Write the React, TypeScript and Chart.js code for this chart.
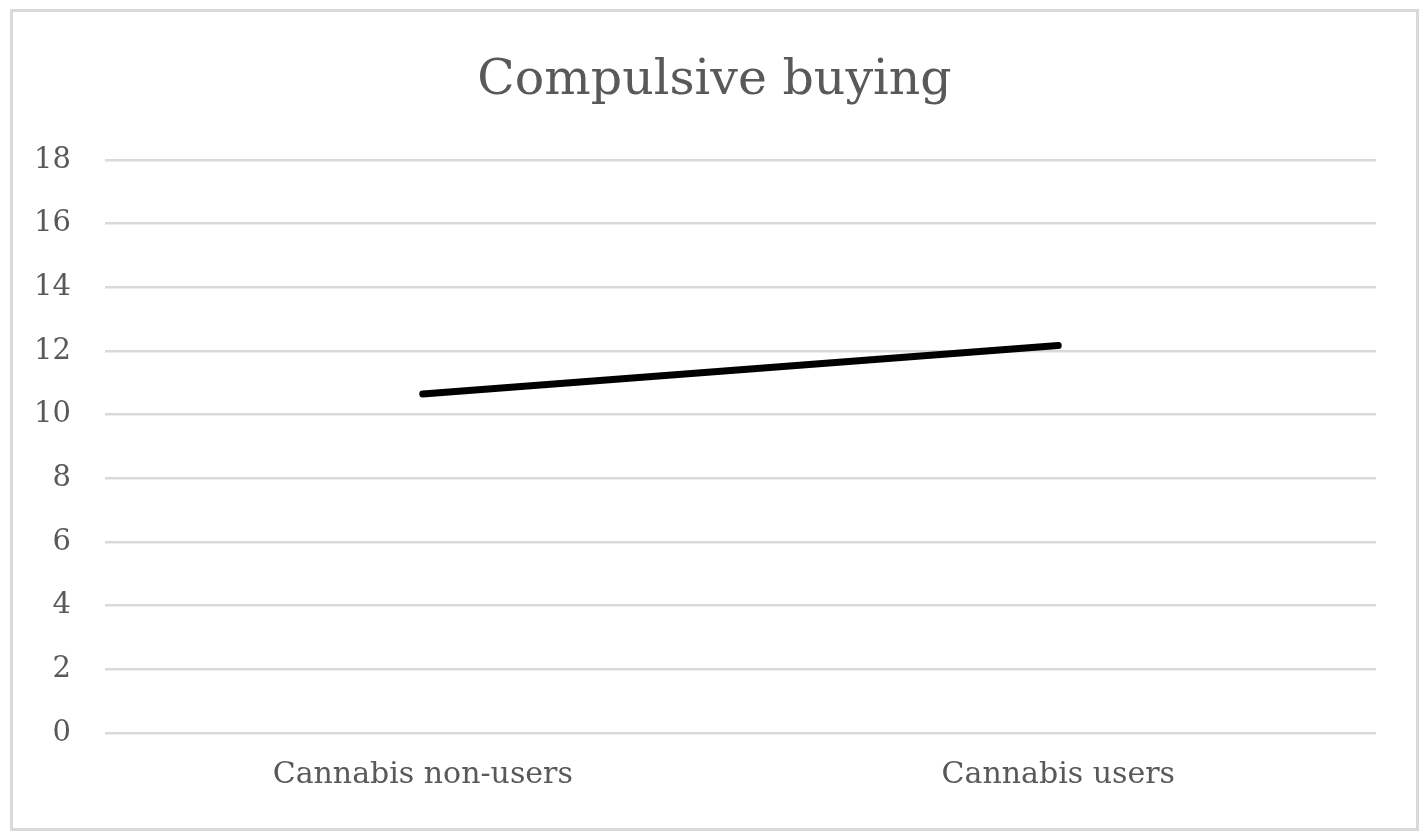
import React, { useEffect, useRef } from "react";
import { Chart, registerables } from "chart.js";

Chart.register(...registerables);

const categories: string[] = ["Cannabis non-users", "Cannabis users"];
const compulsiveBuying: number[] = [10.65, 12.17];
const yTicks: number[] = [0, 2, 4, 6, 8, 10, 12, 14, 16, 18];
const chartTitle = "Compulsive buying";

const FONT = "'DejaVu Serif', serif";
const TEXT = "#595959";
const GRID = "#d9d9d9";

const centeredTitle = {
  id: "centeredTitle",
  afterDraw(chart: any) {
    const ctx = chart.ctx;
    ctx.save();
    ctx.font = `normal 49px ${FONT}`;
    ctx.fillStyle = TEXT;
    ctx.textAlign = "center";
    ctx.textBaseline = "middle";
    ctx.fillText(chartTitle, chart.width / 2, 69);
    ctx.restore();
  },
};

export default function App() {
  const ref = useRef<HTMLCanvasElement | null>(null);

  useEffect(() => {
    if (!ref.current) return;
    const chart = new Chart(ref.current, {
      type: "line",
      data: {
        labels: categories,
        datasets: [
          {
            label: chartTitle,
            data: compulsiveBuying,
            borderColor: "#000000",
            backgroundColor: "#000000",
            borderWidth: 7,
            borderCapStyle: "round",
            pointRadius: 0,
            tension: 0,
          },
        ],
      },
      plugins: [centeredTitle],
      options: {
        animation: false,
        responsive: false,
        maintainAspectRatio: false,
        layout: { padding: { left: 0, right: 40, top: 148, bottom: 0 } },
        plugins: {
          legend: { display: false },
          tooltip: { enabled: false },
          title: { display: false },
        },
        scales: {
          x: {
            offset: true,
            grid: { display: false, drawTicks: false },
            border: { display: false },
            ticks: {
              color: TEXT,
              font: { family: FONT, size: 30 },
              padding: 24,
              maxRotation: 0,
            },
            afterFit: (s: any) => {
              s.height = 95;
            },
          },
          y: {
            min: 0,
            max: 18,
            afterBuildTicks: (s: any) => {
              s.ticks = yTicks.map((v) => ({ value: v }));
            },
            grid: { color: GRID, lineWidth: 2.5, drawTicks: false },
            border: { display: false },
            ticks: {
              color: TEXT,
              font: { family: FONT, size: 29 },
              padding: 34,
            },
            afterFit: (s: any) => {
              s.width = 92;
            },
          },
        },
      },
    });
    return () => chart.destroy();
  }, []);

  return (
    <div
      style={{
        position: "absolute",
        left: 10,
        top: 9,
        width: 1409,
        height: 822,
        boxSizing: "border-box",
        border: "3px solid #d9d9d9",
        background: "#ffffff",
      }}
    >
      <canvas ref={ref} width={1403} height={816} style={{ display: "block" }} />
    </div>
  );
}
